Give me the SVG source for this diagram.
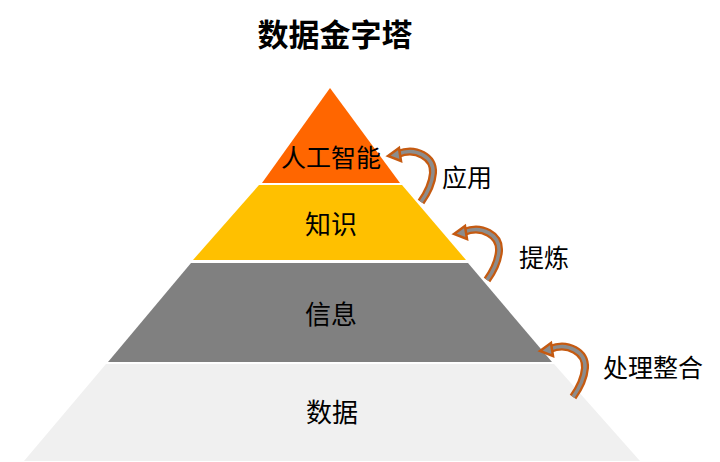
<svg xmlns="http://www.w3.org/2000/svg" xmlns:xlink="http://www.w3.org/1999/xlink" width="720" height="462" viewBox="0 0 720 462">
<style>
  .t{font-family:"Liberation Serif","Noto Sans CJK SC",serif;fill:#000;text-anchor:middle;dominant-baseline:central}
  .lbl{font-size:25px}
  .lay{font-size:26px}
  .title{font-size:31px;font-weight:bold}
  .aout{fill:none;stroke:#C55A11;stroke-width:8}
  .ain{fill:none;stroke:#8C8C8C;stroke-width:3.5}
  .ahead{fill:#8C8C8C;stroke:#C55A11;stroke-width:2.5;stroke-linejoin:miter}
</style>
<defs>
  <g id="carrow">
    <path class="aout" d="M10,-1 C28,-8 46,2 45,18 C44,30 38,40 33,47"/>
    <path class="ain" d="M10,-1 C28,-8 46,2 45,18 C44,30 38,40 33,47"/>
    <polygon class="ahead" points="0,1 11,-7 13,6"/>
  </g>
</defs>
<rect width="720" height="462" fill="#ffffff"/>
<text class="t title" x="335" y="35">数据金字塔</text>
<g id="layer-data">
  <polygon points="106,364 554,364 640,461 24,461" fill="#F0F0F0"/>
  <text class="t lay" x="332" y="413">数据</text>
</g>
<g id="layer-info">
  <polygon points="191,263 468,263 552,362 108,362" fill="#808080"/>
  <text class="t lay" x="331" y="315">信息</text>
</g>
<g id="layer-knowledge">
  <polygon points="259,185 402,185 466,260 193,260" fill="#FFC000"/>
  <text class="t lay" x="331" y="225">知识</text>
</g>
<g id="layer-ai">
  <polygon points="330,88 400,183 262,183" fill="#FF6600"/>
  <text class="t lbl" x="331" y="158">人工智能</text>
</g>
<g id="connectors">
  <use xlink:href="#carrow" transform="translate(388,155)"/>
  <use xlink:href="#carrow" transform="translate(454,233)"/>
  <use xlink:href="#carrow" transform="translate(540,350)"/>
</g>
<g id="label-apply"><text class="t lbl" x="467" y="178">应用</text></g>
<g id="label-refine"><text class="t lbl" x="544" y="258">提炼</text></g>
<g id="label-process"><text class="t lbl" x="653" y="368">处理整合</text></g>
</svg>
